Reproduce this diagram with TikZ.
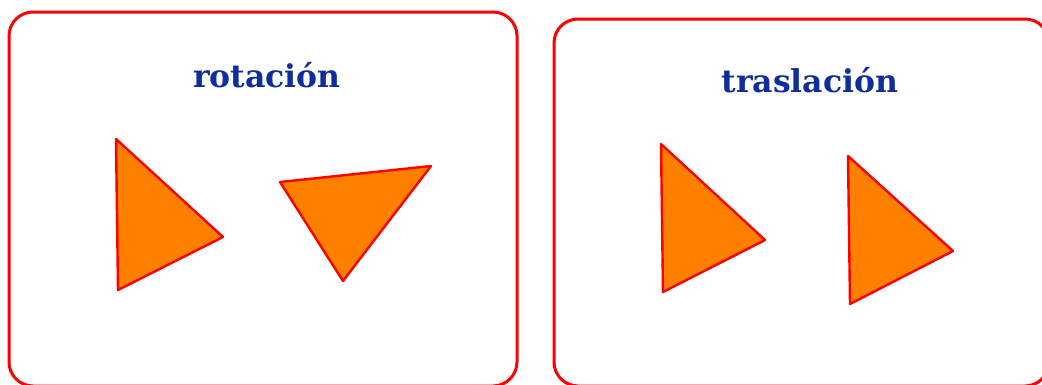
\documentclass[tikz,border=0pt]{standalone}
\usepackage{fontspec}
\setmainfont{DejaVu Serif}
\usetikzlibrary{positioning}
\definecolor{trred}{RGB}{255,0,0}
\definecolor{trorange}{RGB}{255,128,0}
\definecolor{trblue}{RGB}{15,45,155}

\begin{document}
\begin{tikzpicture}[x=1pt,y=-1pt,
    panel/.style={draw=trred,line width=3pt,rounded corners=24pt},
    tri/.style={draw=trred,fill=trorange,line width=2.4pt,line join=round},
    title/.style={text=trblue,font=\fontsize{31.5}{35}\selectfont\bfseries,anchor=base}]
  \useasboundingbox (0,0) rectangle (1042,384);
  % the two panels
  \draw[panel] (9,12) rectangle (517,386);
  \draw[panel] (554,19) rectangle (1049,386);
  \node[title] (rot) at (267,87) {rotación};
  \node[title] (tras) at (810,92) {traslación};
  % rotación
  \coordinate (a1) at (116,139);
  \coordinate (a2) at (223,237);
  \coordinate (a3) at (118,290);
  \draw[tri] (a1) -- (a2) -- (a3) -- cycle;
  \coordinate (b1) at (280,182);
  \coordinate (b2) at (431,166);
  \coordinate (b3) at (343,281);
  \draw[tri] (b1) -- (b2) -- (b3) -- cycle;
  % traslación
  \coordinate (c1) at (661,144);
  \coordinate (c2) at (765,240);
  \coordinate (c3) at (663,292);
  \draw[tri] (c1) -- (c2) -- (c3) -- cycle;
  \coordinate (d1) at (848,156);
  \coordinate (d2) at (953,251);
  \coordinate (d3) at (850,304);
  \draw[tri] (d1) -- (d2) -- (d3) -- cycle;
\end{tikzpicture}
\end{document}
